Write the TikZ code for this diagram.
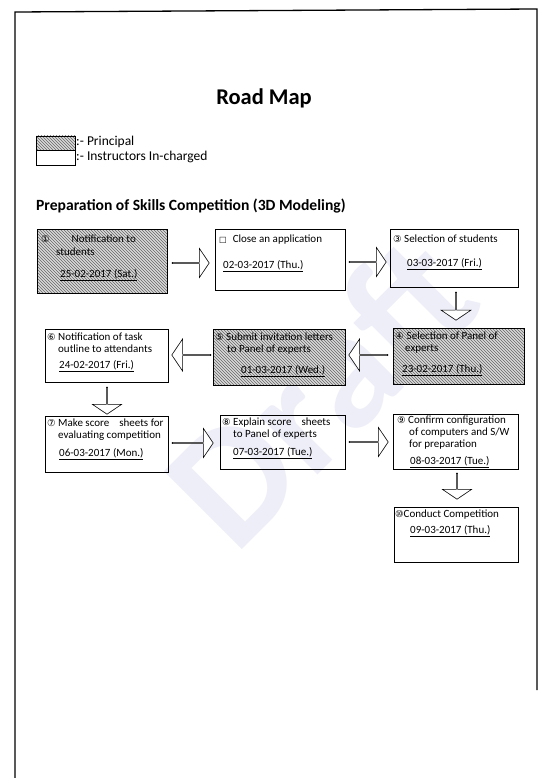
\documentclass[tikz,border=0pt]{standalone}
\usepackage{fontspec}
\setmainfont{Carlito}
\newfontfamily\symf{DejaVu Sans}
\usetikzlibrary{shapes.arrows,patterns}
\definecolor{wmcol}{RGB}{238,238,248}
\begin{document}
\begin{tikzpicture}[x=1pt,y=-1pt,
  box/.style={draw, line width=0.7pt},
  hatch/.style={preaction={fill=gray!30}, pattern=north west lines, pattern color=black!60},
  ln/.style={anchor=base west, inner sep=0pt, font=\fontsize{11}{12}\selectfont},
  barrow/.style={draw, line width=0.6pt, fill=white, single arrow, single arrow head extend=7pt,
    single arrow tip angle=112, minimum width=29pt, inner sep=0pt},
]
\newcommand\cnum[1]{{\symf\fontsize{9.5}{10}\selectfont #1}}
\useasboundingbox (0,0) rectangle (540,778);
% watermark
\node[rotate=45, text=wmcol, font=\bfseries\fontsize{170}{170}\selectfont] (wm) at (320,390) {Draft};
% page frame
\draw[line width=1.3pt] (15,778) -- (15,12) -- (537,9) -- (537,690);
% title
\node[font=\bfseries\fontsize{22.5}{26}\selectfont] (title) at (264,98) {Road Map};
% legend
\draw[hatch, line width=0.5pt] (36,136) rectangle (75,150);
\draw[line width=0.5pt] (36,150) rectangle (75,165);
\node[anchor=west, inner sep=0pt, font=\fontsize{13.5}{15}\selectfont] (lg1) at (76,142) {:- Principal};
\node[anchor=west, inner sep=0pt, font=\fontsize{13.5}{15}\selectfont] (lg2) at (76,157) {:- Instructors In-charged};
% heading
\node[anchor=west, inner sep=0pt, font=\bfseries\fontsize{15.6}{18}\selectfont] (head) at (36,206) {Preparation of Skills Competition (3D Modeling)};
% boxes
\draw[box, hatch] (37,229) rectangle (167,293) coordinate (b1);
\draw[box] (215,229) rectangle (345,290) coordinate (b2);
\draw[box] (390,229) rectangle (518,287) coordinate (b3);
\draw[box, hatch] (393,328) rectangle (524,384) coordinate (b4);
\draw[box, hatch] (213,329) rectangle (345,385) coordinate (b5);
\draw[box] (45,329) rectangle (168,382) coordinate (b6);
\draw[box] (45,416) rectangle (168,472) coordinate (b7);
\draw[box] (220,415) rectangle (345,469) coordinate (b8);
\draw[box] (393,414) rectangle (518,469) coordinate (b9);
\draw[box] (394,507) rectangle (518,562) coordinate (b10);
% box texts
\node[ln] (t1a) at (41,242) {\cnum{①}\hspace{22pt}Notification to};
\node[ln] (t1b) at (56,255) {students};
\node[ln] (t1c) at (60,277) {\underline{25-02-2017 (Sat.)}};
\node[ln] (t2a) at (219,242) {{\symf\fontsize{8}{8}\selectfont □}\hspace{6pt}Close an application};
\node[ln] (t2b) at (223,268) {\underline{02-03-2017 (Thu.)}};
\node[ln] (t3a) at (393,242) {\cnum{③} Selection of students};
\node[ln] (t3b) at (407,266) {\underline{03-03-2017 (Fri.)}};
\node[ln] (t4a) at (395,339) {\cnum{④}\hspace{3pt}Selection of Panel of};
\node[ln] (t4b) at (405,351) {experts};
\node[ln] (t4c) at (402,372) {\underline{23-02-2017 (Thu.)}};
\node[ln] (t5a) at (215,340) {\cnum{⑤} Submit invitation letters};
\node[ln] (t5b) at (227,352) {to Panel of experts};
\node[ln] (t5c) at (241,373) {\underline{01-03-2017 (Wed.)}};
\node[ln] (t6a) at (47,340) {\cnum{⑥} Notification of task};
\node[ln] (t6b) at (58,352) {outline to attendants};
\node[ln] (t6c) at (59,368) {\underline{24-02-2017 (Fri.)}};
\node[ln] (t7a) at (47,426) {\cnum{⑦} Make score\hspace{10pt}sheets for};
\node[ln] (t7b) at (58,438) {evaluating competition};
\node[ln] (t7c) at (59,456) {\underline{06-03-2017 (Mon.)}};
\node[ln] (t8a) at (222,425) {\cnum{⑧} Explain score\hspace{10pt}sheets};
\node[ln] (t8b) at (233,437) {to Panel of experts};
\node[ln] (t8c) at (233,455) {\underline{07-03-2017 (Tue.)}};
\node[ln] (t9a) at (397,423) {\cnum{⑨} Confirm configuration};
\node[ln] (t9b) at (409,435) {of computers and S/W};
\node[ln] (t9c) at (409,447) {for preparation};
\node[ln] (t9d) at (410,464) {\underline{08-03-2017 (Tue.)}};
\node[ln] (t10a) at (395,517) {\cnum{⑩}Conduct Competition};
\node[ln] (t10b) at (410,533) {\underline{09-03-2017 (Thu.)}};
% block arrows
\node[barrow, minimum height=37pt] (a12) at (190.5,263) {};
\node[barrow, minimum height=37pt] (a23) at (367.5,262) {};
\node[barrow, minimum height=28pt, minimum width=30pt, shape border rotate=270] (a34) at (456,306) {};
\node[barrow, minimum height=39pt, minimum width=32pt, shape border rotate=180] (a45) at (368.5,355) {};
\node[barrow, minimum height=39pt, minimum width=32pt, shape border rotate=180] (a56) at (191.5,355) {};
\node[barrow, minimum height=27pt, shape border rotate=270] (a67) at (107,400.5) {};
\node[barrow, minimum height=41pt] (a78) at (192.5,443) {};
\node[barrow, minimum height=39pt] (a89) at (368.5,442) {};
\node[barrow, minimum height=26pt, shape border rotate=270] (a910) at (457,486) {};
\end{tikzpicture}
\end{document}
